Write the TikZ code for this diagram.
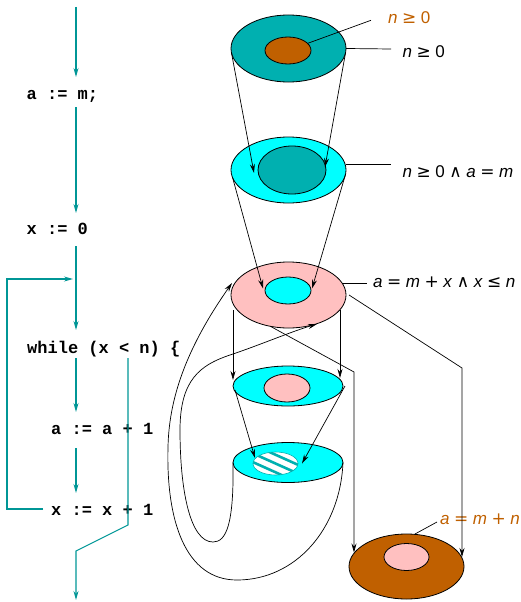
\documentclass[tikz,border=0pt]{standalone}
\usepackage{fontspec}
\usetikzlibrary{arrows.meta,shapes.geometric,calc}
\newfontfamily\codefont{Liberation Mono}
\newfontfamily\labfont{Liberation Sans}
\newfontfamily\symfont{DejaVu Sans}
\newcommand\vr[1]{\textit{#1}}
% relation / operator symbol with its surrounding gaps
\newcommand\sy[1]{\hspace{4.5pt}{\symfont #1}\hspace{4.5pt}}

\definecolor{flow}{RGB}{0,150,150}
\definecolor{tealA}{RGB}{0,176,176}
\definecolor{cyanA}{RGB}{0,255,255}
\definecolor{pinkA}{RGB}{255,192,192}
\definecolor{brownA}{RGB}{192,96,0}

\tikzset{
  ell/.style={ellipse, draw=black, line width=0.8pt, inner sep=0pt, outer sep=0pt},
  code/.style={anchor=base west, inner sep=0pt, font=\codefont\bfseries\fontsize{17}{17}\selectfont},
  lab/.style={anchor=base west, inner sep=0pt, font=\labfont\fontsize{17}{20}\selectfont},
  arr/.style={-{Stealth[length=9pt,width=5pt,inset=3pt]}},
  flowline/.style={draw=flow, line width=1.1pt},
  conn/.style={draw=black, line width=0.7pt},
}

\begin{document}
\begin{tikzpicture}[x=1pt,y=-1pt]
\useasboundingbox (0,0) rectangle (521,602);

% ---------- program text ----------
\node[code] (c1) at (26.5,99)  {a := m;};
\node[code] (c2) at (26.5,234) {x := 0};
\node[code] (c3) at (27,353)   {while (x < n) \{};
\node[code] (c4) at (51,434)   {a := a + 1};
\node[code] (c5) at (51,515)   {x := x + 1};

% control flow
\coordinate (f0) at (76,7);    \coordinate (f1) at (76,77);
\coordinate (f2) at (76,107);  \coordinate (f3) at (76,213);
\coordinate (f4) at (76,246);  \coordinate (f5) at (76,330);
\coordinate (f6) at (76,358);  \coordinate (f7) at (76,412);
\coordinate (f8) at (76,448);  \coordinate (f9) at (76,493);
\coordinate (lp0) at (43,509); \coordinate (lp1) at (7,509);
\coordinate (lp2) at (7,279);  \coordinate (lp3) at (73,279);
\coordinate (x0) at (128,358); \coordinate (x1) at (128,525);
\coordinate (x2) at (76,551);  \coordinate (x3) at (76,600);

\draw[flowline,arr] (f0) -- (f1);
\draw[flowline,arr] (f2) -- (f3);
\draw[flowline,arr] (f4) -- (f5);
\draw[flowline,arr] (f6) -- (f7);
\draw[flowline,arr] (f8) -- (f9);
\draw[flowline,arr] (lp0) -- (lp1) -- (lp2) -- (lp3);
\draw[flowline,arr] (x0) -- (x1) -- (x2) -- (x3);

% ---------- state sets ----------
\node[ell, fill=tealA, minimum width=115pt, minimum height=67pt] (e1) at (288.5,48.5) {};
\node[ell, fill=brownA, minimum width=46pt, minimum height=27pt] (e1i) at (288,50.5) {};

\node[ell, fill=cyanA, minimum width=115pt, minimum height=66pt] (e2) at (288.5,170) {};
\node[ell, fill=tealA, minimum width=68pt, minimum height=48pt] (e2i) at (292,170) {};

\node[ell, fill=pinkA, minimum width=115pt, minimum height=66pt] (e3) at (288.5,295) {};
\node[ell, fill=cyanA, minimum width=46pt, minimum height=27pt] (e3i) at (288,290.5) {};

\node[ell, fill=cyanA, minimum width=110pt, minimum height=40pt] (e4) at (288,386) {};
\node[ell, fill=pinkA, minimum width=46pt, minimum height=28pt] (e4i) at (287,388) {};

\node[ell, fill=cyanA, minimum width=110pt, minimum height=40pt] (e5) at (288,462.5) {};
\node[ell, fill=white, draw=tealA, line width=0.6pt, minimum width=45pt, minimum height=23pt] (e5i) at (275.5,463.5) {};
\begin{scope}
  \clip (e5i.center) ellipse [x radius=22.5pt, y radius=11.5pt];
  \foreach \k in {-8,0,8}
    \draw[tealA, line width=2.6pt]
      ($(e5i.center)+({-0.41*\k},{0.912*\k})+(-27.4,-12.3)$) --
      ($(e5i.center)+({-0.41*\k},{0.912*\k})+(27.4,12.3)$);
\end{scope}

\node[ell, fill=brownA, minimum width=115pt, minimum height=65pt] (e6) at (406.5,566.5) {};
\node[ell, fill=pinkA, minimum width=45pt, minimum height=27pt] (e6i) at (406.5,557) {};

% ---------- labels ----------
\node[lab, text=brownA] (L1) at (388,23.3) {\vr{n}\sy{≥}0};
\node[lab] (L2) at (402.5,57.5) {\vr{n}\sy{≥}0};
\node[lab] (L3) at (402.5,177.3) {\vr{n}\sy{≥}0\sy{∧}\vr{a}\sy{=}\vr{m}};
\node[lab] (L4) at (373,287) {\vr{a}\sy{=}\vr{m}\sy{+}\vr{x}\sy{∧}\vr{x}\sy{≤}\vr{n}};
\node[lab, text=brownA] (L5) at (440,524) {\vr{a}\sy{=}\vr{m}\sy{+}\vr{n}};

\draw[conn] (e1i.20) -- ($(L1.base west)+(-17,-3)$);
\draw[conn] (e1.east) -- ($(L2.base west)+(-11.5,-8.5)$);
\draw[conn] ($(e2.east)+(-0.5,-6)$) -- ($(L3.base west)+(-11.5,-13.3)$);
\draw[conn] ($(e3.east)+(-4,-12)$) -- ($(L4.base west)+(-6,-4)$);
\draw[conn] ($(e6.north)+(8.5,0)$) -- ($(L5.base west)+(-3,-2)$);

% ---------- transitions ----------
\draw[conn,arr] (e1.184) -- ([shift={(-4,3)}]e2i.west);
\draw[conn,arr] (e1.-4) -- ([shift={(-1,-3)}]e2i.east);

\draw[conn,arr] (e2.188) -- ([shift={(-2,-2)}]e3i.west);
\draw[conn,arr] (e2.-5) -- ([shift={(1,-2)}]e3i.east);

\draw[conn,arr] ($(e3.center)+(-55.5,15)$) -- ($(e4.center)+(-55,-6)$);
\draw[conn,arr] ($(e3.center)+(51.5,15)$) -- ($(e4.center)+(52,-8)$);

\draw[conn,arr] ($(e4.west)+(2,4)$) -- ($(e5i.west)+(2,-5.5)$);
\draw[conn,arr] ($(e4.east)+(2,0)$) -- ($(e5i.east)+(4,0)$);

% loop back edges
\draw[conn,arr] (e5.west)
   .. controls (234,525) and (226,542) .. (213,542)
   .. controls (190,542) and (180,490) .. (180,430)
   .. controls (180,380) and (200,365) .. (230,355)
   .. controls (260,345) and (290,332) .. ($(e3.center)+(28.5,29)$);
\draw[conn,arr] (e5.east)
   .. controls (340,530) and (295,580) .. (237,580)
   .. controls (185,580) and (166,520) .. (168,447)
   .. controls (169,400) and (185,350) .. ($(e3.west)+(1,-12)$);

% loop exit
\coordinate (b1) at (462,368);
\coordinate (b2) at (354,372);
\draw[conn,arr] ([xshift=3pt]e3.east) -- (b1) -- ($(e6.center)+(55.5,-9.5)$);
\draw[conn,arr] (e3.240) -- (b2) -- ($(e6.center)+(-52.5,-14)$);
\end{tikzpicture}
\end{document}
